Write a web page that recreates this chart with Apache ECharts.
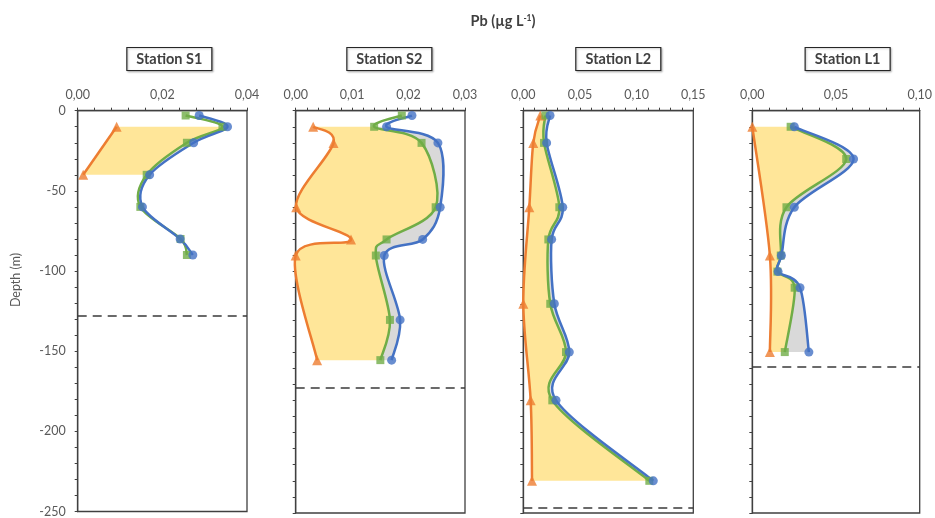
<!DOCTYPE html>
<html>
<head>
<meta charset="utf-8">
<script src="https://cdn.jsdelivr.net/npm/echarts@6/dist/echarts.min.js"></script>
<style>
  html, body { margin: 0; padding: 0; background: #fff; }
  #main { width: 935px; height: 518px; }
</style>
</head>
<body>
<div id="main"></div>
<script>
// station names and axis ranges
var stations = ['Station S1', 'Station S2', 'Station L2', 'Station L1'];
var xMax = [0.04, 0.03, 0.15, 0.10];
var xLabelStep = [0.02, 0.01, 0.05, 0.05];
var bottomDepth = [-128, -172, -247, -159];

// Station S1
var depthS1 = [-3, -10, -20, -40, -60, -80, -90];
var blueS1 = [0.0287, 0.0354, 0.0274, 0.0170, 0.0153, 0.0242, 0.0272];
var greenS1 = [0.0255, 0.0342, 0.0258, 0.0163, 0.0148, 0.0243, 0.0258];
var orangeDepthS1 = [-10, -40];
var orangeS1 = [0.0092, 0.0013];

// Station S2
var depthS2 = [-3, -10, -20, -60, -80, -90, -130, -155];
var blueS2 = [0.0206, 0.0161, 0.0252, 0.0256, 0.0225, 0.0157, 0.0185, 0.0170];
var greenS2 = [0.0188, 0.0139, 0.0223, 0.0248, 0.0161, 0.0142, 0.0167, 0.0150];
var orangeDepthS2 = [-10, -20, -60, -80, -90, -155];
var orangeS2 = [0.0031, 0.0067, 0.0001, 0.0098, 0.0000, 0.0038];

// Station L2
var depthL2 = [-3, -20, -60, -80, -120, -150, -180, -230];
var blueL2 = [0.0236, 0.0206, 0.0348, 0.0250, 0.0274, 0.0406, 0.0289, 0.1147];
var greenL2 = [0.0195, 0.0183, 0.0318, 0.0221, 0.0238, 0.0377, 0.0256, 0.1112];
var orangeDepthL2 = [-3, -20, -60, -120, -180, -230];
var orangeL2 = [0.0150, 0.0088, 0.0053, 0.0000, 0.0065, 0.0077];

// Station L1
var depthL1 = [-10, -30, -60, -90, -100, -110, -150];
var blueL1 = [0.0251, 0.0605, 0.0251, 0.0174, 0.0154, 0.0285, 0.0338];
var greenL1 = [0.0229, 0.0561, 0.0204, 0.0170, 0.0150, 0.0253, 0.0194];
var orangeDepthL1 = [-10, -90, -150];
var orangeL1 = [0.0000, 0.0105, 0.0105];

var panels = [
  { depth: depthS1, blue: blueS1, green: greenS1, orangeDepth: orangeDepthS1, orange: orangeS1 },
  { depth: depthS2, blue: blueS2, green: greenS2, orangeDepth: orangeDepthS2, orange: orangeS2 },
  { depth: depthL2, blue: blueL2, green: greenL2, orangeDepth: orangeDepthL2, orange: orangeL2 },
  { depth: depthL1, blue: blueL1, green: greenL1, orangeDepth: orangeDepthL1, orange: orangeL1 }
];

var gridLeft = [77.7, 295.7, 523.3, 752.3];
var gridWidth = [169.3, 169.3, 170, 168.7];
var titleShift = [-3, -1, 0, 1];

var ORANGE = '#ED7D31', GREEN = '#70AD47', BLUE = '#4472C4';
var FONT = 'Lato';

// bezier segments through pixel points (catmull-rom style, like excel smooth lines)
function segs(pts) {
  var out = [];
  for (var i = 0; i < pts.length - 1; i++) {
    var p0 = pts[i - 1] || pts[i], p1 = pts[i], p2 = pts[i + 1], p3 = pts[i + 2] || pts[i + 1];
    out.push([p1,
      [p1[0] + (p2[0] - p0[0]) / 6, p1[1] + (p2[1] - p0[1]) / 6],
      [p2[0] - (p3[0] - p1[0]) / 6, p2[1] - (p3[1] - p1[1]) / 6],
      p2]);
  }
  return out;
}
function s(p) { return ' ' + p[0].toFixed(2) + ' ' + p[1].toFixed(2); }
function forward(sg, a, b) {
  var d = '';
  for (var i = a; i < b; i++) d += ' C' + s(sg[i][1]) + s(sg[i][2]) + s(sg[i][3]);
  return d;
}
function backward(sg, a, b) {
  var d = '';
  for (var i = b - 1; i >= a; i--) d += ' C' + s(sg[i][2]) + s(sg[i][1]) + s(sg[i][0]);
  return d;
}

function profileSeries(k) {
  return {
    type: 'custom',
    xAxisIndex: k,
    yAxisIndex: k,
    silent: true,
    data: [[0, 0]],
    renderItem: function (params, api) {
      var P = panels[k];
      function pts(vals, deps) {
        return vals.map(function (v, i) { return api.coord([v, deps[i]]); });
      }
      var o = pts(P.orange, P.orangeDepth), g = pts(P.green, P.depth), b = pts(P.blue, P.depth);
      var so = segs(o), sg = segs(g), sb = segs(b);
      var i0 = P.depth.indexOf(P.orangeDepth[0]);
      var i1 = P.depth.indexOf(P.orangeDepth[P.orangeDepth.length - 1]);
      var yellow = 'M' + s(o[0]) + forward(so, 0, so.length) + ' L' + s(g[i1]) + backward(sg, i0, i1) + ' Z';
      var grey = 'M' + s(g[i0]) + forward(sg, i0, i1) + ' L' + s(b[i1]) + backward(sb, i0, i1) + ' Z';
      function line(p, sgm, color) {
        return {
          type: 'path',
          shape: { pathData: 'M' + s(p[0]) + forward(sgm, 0, sgm.length) },
          style: { fill: 'none', stroke: color, lineWidth: 2.5, lineJoin: 'round' }
        };
      }
      return {
        type: 'group',
        children: [
          { type: 'path', shape: { pathData: yellow }, style: { fill: '#FFE699', stroke: null } },
          { type: 'path', shape: { pathData: grey }, style: { fill: '#D9D9D9', stroke: null } },
          line(o, so, ORANGE),
          line(g, sg, GREEN),
          line(b, sb, BLUE)
        ]
      };
    }
  };
}

function markers(k, vals, deps, symbol, size, color, withMark) {
  var sr = {
    type: 'scatter',
    xAxisIndex: k,
    yAxisIndex: k,
    symbol: symbol,
    symbolSize: size,
    itemStyle: { color: color },
    silent: true,
    data: vals.map(function (v, i) { return [v, deps[i]]; })
  };
  if (withMark) {
    sr.markLine = {
      silent: true,
      symbol: 'none',
      label: { show: false },
      lineStyle: { color: '#3a3a3a', type: [9, 6], width: 1.6 },
      data: [{ yAxis: bottomDepth[k] }]
    };
  }
  return sr;
}

var grids = [], xAxes = [], yAxes = [], series = [], titles = [];

titles.push({
  text: 'Pb (µg L{sup|-1})',
  left: 498,
  top: 9,
  textAlign: 'center',
  textStyle: {
    fontFamily: FONT, fontSize: 14.5, fontWeight: 'bold', color: '#404040',
    rich: { sup: { fontFamily: FONT, fontSize: 8.5, fontWeight: 'bold', color: '#404040', verticalAlign: 'top', padding: [0, 0, 6, 0] } }
  }
});

for (var k = 0; k < 4; k++) {
  grids.push({
    left: gridLeft[k], top: 110.7, width: gridWidth[k], height: 402.3,
    show: true, borderColor: '#404040', borderWidth: 1.3, backgroundColor: 'transparent'
  });
  (function (k) {
    xAxes.push({
      gridIndex: k, type: 'value', position: 'top',
      min: 0, max: xMax[k], interval: xLabelStep[k] / 5,
      axisLine: { show: true, lineStyle: { color: '#404040', width: 1.3 } },
      axisTick: { show: true, length: 3, lineStyle: { color: '#404040' } },
      splitLine: { show: false },
      axisLabel: {
        margin: 9, color: '#595959', fontFamily: FONT, fontSize: 12.5,
        formatter: function (v) {
          var r = v / xLabelStep[k];
          return Math.abs(r - Math.round(r)) < 1e-6 ? v.toFixed(2).replace('.', ',') : '';
        }
      }
    });
  })(k);
  yAxes.push({
    gridIndex: k, type: 'value', min: -250, max: 0, interval: 10,
    axisLine: { show: true, onZero: false, lineStyle: { color: '#404040', width: 1.3 } },
    axisTick: { show: true, length: 3, lineStyle: { color: '#404040' } },
    splitLine: { show: false },
    axisLabel: {
      show: k === 0, margin: 12, color: '#595959', fontFamily: FONT, fontSize: 12.5,
      formatter: function (v) { return v % 50 === 0 ? String(v) : ''; }
    }
  });
  titles.push({
    text: stations[k],
    left: gridLeft[k] + gridWidth[k] / 2 + titleShift[k],
    top: 47,
    textAlign: 'center',
    padding: [5, 10, 4, 10],
    borderColor: '#262626',
    borderWidth: 1.2,
    backgroundColor: '#fff',
    shadowColor: 'rgba(0,0,0,0.25)',
    shadowBlur: 2,
    shadowOffsetX: 1,
    shadowOffsetY: 1,
    textStyle: { fontFamily: FONT, fontSize: 14.5, fontWeight: 'bold', color: '#404040' }
  });
  var P = panels[k];
  series.push(profileSeries(k));
  series.push(markers(k, P.orange, P.orangeDepth, 'triangle', 10, ORANGE, true));
  series.push(markers(k, P.green, P.depth, 'rect', 8, GREEN, false));
  series.push(markers(k, P.blue, P.depth, 'circle', 9, BLUE, false));
}

var chart = echarts.init(document.getElementById('main'));
chart.setOption({
  animation: false,
  backgroundColor: '#fff',
  title: titles,
  grid: grids,
  xAxis: xAxes,
  yAxis: yAxes,
  graphic: [{
    type: 'text',
    x: 16, y: 280,
    rotation: Math.PI / 2,
    style: { text: 'Depth (m)', fontFamily: FONT, fontSize: 12.5, fill: '#595959', align: 'center', verticalAlign: 'middle' }
  }],
  series: series
});
</script>
</body>
</html>
